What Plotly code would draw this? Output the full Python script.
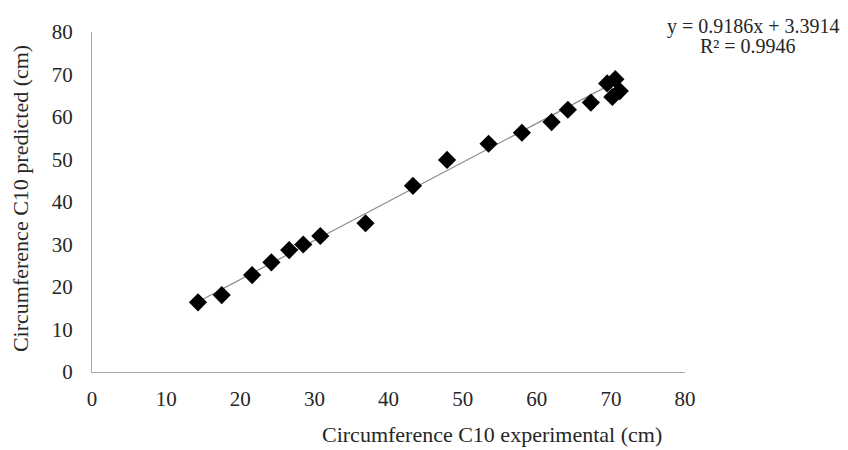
import plotly.graph_objects as go

# Data
experimental = [14.3, 17.5, 21.6, 24.2, 26.6, 28.5, 30.8, 36.9, 43.3, 47.9,
                53.5, 58.0, 62.0, 64.2, 67.3, 69.5, 70.6, 70.2, 71.2]
predicted = [16.4, 18.1, 22.8, 25.8, 28.7, 30.0, 32.0, 35.0, 43.8, 49.9,
             53.7, 56.3, 58.8, 61.7, 63.4, 67.9, 68.9, 64.7, 66.1]

slope = 0.9186
intercept = 3.3914
r2 = 0.9946

x_ticks = [0, 10, 20, 30, 40, 50, 60, 70, 80]
y_ticks = [0, 10, 20, 30, 40, 50, 60, 70, 80]

x_fit = [min(experimental), max(experimental)]
y_fit = [slope * v + intercept for v in x_fit]

font_family = "Liberation Serif, Times New Roman, serif"
txt_color = "#262626"

fig = go.Figure()
fig.add_trace(go.Scatter(
    x=x_fit, y=y_fit, mode="lines",
    line=dict(color="#8c8c8c", width=1.2),
    showlegend=False, hoverinfo="skip"))
fig.add_trace(go.Scatter(
    x=experimental, y=predicted, mode="markers",
    marker=dict(symbol="diamond", size=14, color="black", line=dict(width=0)),
    showlegend=False))

axis_common = dict(
    showgrid=False, zeroline=False, showline=True,
    linecolor="#a6a6a6", linewidth=1, ticks="",
    tickfont=dict(family=font_family, size=21, color=txt_color),
)

fig.update_xaxes(range=[0, 80], tickvals=x_ticks, ticklabelstandoff=8, **axis_common)
fig.update_yaxes(range=[0, 80], tickvals=y_ticks, ticklabelstandoff=14, **axis_common)

# page is offset by the 8px body margin; plot area lands at page x 92..685, y 26..372
PX0, PW, PY1, PH = 92, 593, 372, 346


def px(xp):
    return (xp - PX0) / PW


def py(yp):
    return (PY1 - yp) / PH


fig.update_layout(
    width=840, height=442,
    margin=dict(l=84, r=163, t=18, b=78),
    paper_bgcolor="white", plot_bgcolor="white",
    font=dict(family=font_family, color=txt_color),
    annotations=[
        dict(text="Circumference C10 experimental (cm)", xref="paper", yref="paper",
             x=px(492), y=py(436), xanchor="center", yanchor="middle",
             showarrow=False, font=dict(family=font_family, size=22, color=txt_color)),
        dict(text="Circumference C10 predicted (cm)", xref="paper", yref="paper",
             x=px(20), y=py(196), xanchor="center", yanchor="middle",
             textangle=-90, showarrow=False,
             font=dict(family=font_family, size=22, color=txt_color)),
        dict(text=f"y = {slope}x + {intercept}", xref="paper", yref="paper",
             x=px(842), y=py(20), xanchor="right", yanchor="middle",
             showarrow=False, font=dict(family=font_family, size=20, color=txt_color)),
        dict(text=f"R² = {r2}", xref="paper", yref="paper",
             x=px(748), y=py(40), xanchor="center", yanchor="middle",
             showarrow=False, font=dict(family=font_family, size=20, color=txt_color)),
    ],
)

fig.write_html("out.html")
